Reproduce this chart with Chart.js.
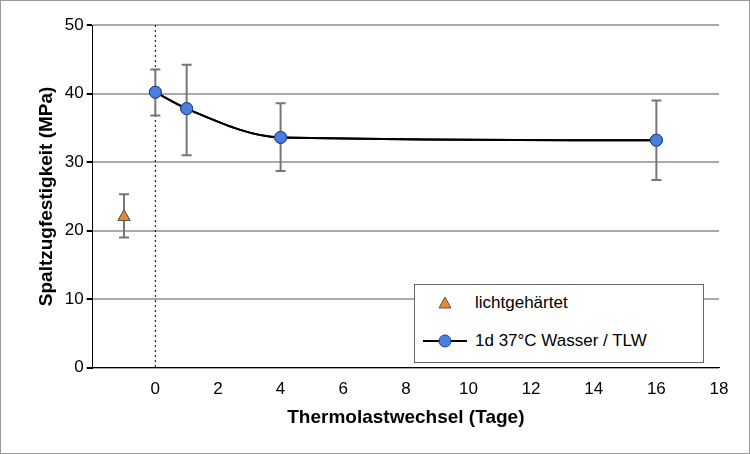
<!DOCTYPE html>
<html><head><meta charset="utf-8">
<script src="https://cdn.jsdelivr.net/npm/chart.js@4/dist/chart.umd.min.js"></script>
<style>
body{margin:0;background:#fff;font-family:"Liberation Sans",Arial,sans-serif}
#wrap{position:relative;width:748px;height:452px;border:1px solid #999}
#legend{position:absolute;left:413px;top:283px;width:288px;height:77px;border:1px solid #666;background:#fff;font-size:17px;color:#000}
.row{position:absolute;left:0;height:20px;display:flex;align-items:center}
</style></head><body>
<div id="wrap"><canvas id="c" width="748" height="452"></canvas>
<div id="legend">
 <div class="row" style="top:8px"><svg width="60" height="20"><polygon points="30,4 36,15 24,15" fill="#e8892e" stroke="#555" stroke-width="1"/></svg><span>lichtgehärtet</span></div>
 <div class="row" style="top:46px"><svg width="60" height="20"><line x1="8" y1="10" x2="52" y2="10" stroke="#000" stroke-width="2"/><circle cx="30" cy="10" r="6" fill="#4a7fe0" stroke="#1c3f8a"/></svg><span>1d 37°C Wasser / TLW</span></div>
</div></div>
<script>
const lightX=[-1], lightY=[22], lightLo=[19], lightHi=[25.3];
const tlwX=[0,1,4,16], tlwY=[40.2,37.8,33.6,33.2], tlwLo=[36.8,31,28.7,27.4], tlwHi=[43.5,44.2,38.6,39];
const errPlugin={id:'err',afterDatasetsDraw(ch){
 const c=ch.ctx,x=ch.scales.x,y=ch.scales.y;
 c.save();
 c.strokeStyle='#000';c.lineWidth=1;c.setLineDash([2,3]);
 c.beginPath();c.moveTo(x.getPixelForValue(0),y.top);c.lineTo(x.getPixelForValue(0),y.bottom);c.stroke();
 c.setLineDash([]);c.strokeStyle='#777';c.lineWidth=2;
 const draw=(xs,lo,hi)=>xs.forEach((v,i)=>{const px=x.getPixelForValue(v),a=y.getPixelForValue(lo[i]),b=y.getPixelForValue(hi[i]);
  c.beginPath();c.moveTo(px,a);c.lineTo(px,b);c.moveTo(px-5,a);c.lineTo(px+5,a);c.moveTo(px-5,b);c.lineTo(px+5,b);c.stroke();});
 draw(lightX,lightLo,lightHi);draw(tlwX,tlwLo,tlwHi);
 c.restore();
 ch.data.datasets.forEach((d,i)=>ch.getDatasetMeta(i).controller.draw());
}};
new Chart(document.getElementById('c'),{type:'scatter',
 data:{datasets:[
  {data:tlwX.map((v,i)=>({x:v,y:tlwY[i]})),showLine:true,borderColor:'#000',borderWidth:2,cubicInterpolationMode:'monotone',pointRadius:6,pointBackgroundColor:'#4a7fe0',pointBorderColor:'#1c3f8a',pointBorderWidth:1},
  {data:lightX.map((v,i)=>({x:v,y:lightY[i]})),pointStyle:'triangle',pointRadius:7,pointBackgroundColor:'#e8892e',pointBorderColor:'#555',pointBorderWidth:1}
 ]},
 options:{responsive:false,animation:false,
  layout:{padding:{left:30,right:30,top:24,bottom:20}},
  plugins:{legend:{display:false},tooltip:{enabled:false}},
  scales:{
   x:{min:-2,max:18,grid:{display:false,drawTicks:true,tickColor:'#000'},border:{color:'#000'},
      ticks:{stepSize:2,color:'#000',font:{size:17,family:'Liberation Sans'},callback:v=>v<0?'':v},
      title:{display:true,text:'Thermolastwechsel (Tage)',color:'#000',font:{size:19,weight:'bold',family:'Liberation Sans'}}},
   y:{min:0,max:50,grid:{color:'#aaa',lineWidth:2,tickColor:'#000',tickLength:6},border:{color:'#000'},
      ticks:{stepSize:10,color:'#000',font:{size:17,family:'Liberation Sans'}},
      title:{display:true,text:'Spaltzugfestigkeit (MPa)',color:'#000',font:{size:19,weight:'bold',family:'Liberation Sans'}}}
  }},
 plugins:[errPlugin]});
</script></body></html>
